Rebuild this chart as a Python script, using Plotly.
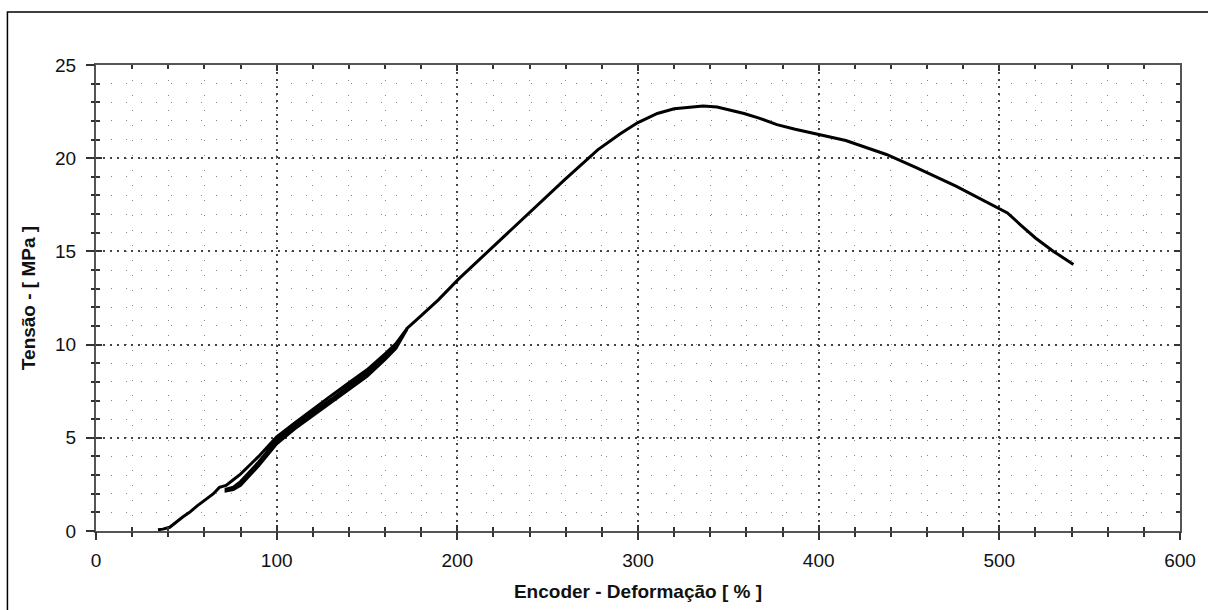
import plotly.graph_objects as go

# ---- data ----
init_x = [34.3, 37, 40.8, 44, 48, 51.8, 56, 61, 65, 68.3, 72]
init_y = [0.07, 0.1, 0.2, 0.45, 0.75, 1.0, 1.35, 1.71, 2.0, 2.34, 2.45]

band_x = [72, 76, 80, 90, 100, 110, 120, 130, 140, 150, 160, 166, 172]
upper_y = [2.45, 2.75, 3.05, 4.0, 5.05, 5.8, 6.55, 7.25, 7.95, 8.65, 9.5, 10.05, 10.85]
cyc1_y = [2.25, 2.35, 2.65, 3.7, 4.85, 5.62, 6.33, 7.05, 7.75, 8.45, 9.35, 9.95, 10.85]
cyc2_y = [2.15, 2.25, 2.5, 3.55, 4.7, 5.5, 6.2, 6.9, 7.6, 8.35, 9.25, 9.85, 10.8]
cyc3_y = [2.2, 2.3, 2.6, 3.62, 4.78, 5.56, 6.27, 6.98, 7.68, 8.4, 9.3, 9.9, 10.82]
cyc4_y = [2.15, 2.22, 2.45, 3.5, 4.68, 5.48, 6.18, 6.88, 7.58, 8.3, 9.2, 9.8, 10.8]

main_x = [172, 180, 189.5, 200.5, 217, 237.3, 259.3, 277.7, 290, 299.7, 310.7, 320,
          329, 336, 343.8, 350, 358.7, 367, 376.9, 387, 399, 415, 437.5, 454, 476,
          487, 504.5, 512, 520, 530, 541]
main_y = [10.85, 11.55, 12.4, 13.5, 15.0, 16.88, 18.84, 20.45, 21.3, 21.9, 22.4, 22.65,
          22.75, 22.8, 22.75, 22.6, 22.4, 22.15, 21.8, 21.55, 21.3, 20.95, 20.2, 19.5, 18.5,
          17.95, 17.06, 16.4, 15.72, 15.0, 14.3]

x_ticks = [0, 100, 200, 300, 400, 500, 600]
y_ticks = [0, 5, 10, 15, 20, 25]
x_title = "Encoder - Deformação [ % ]"
y_title = "Tensão - [ MPa ]"

# ---- build path: initial load, cycles, then continue to rupture ----
xs, ys = [], []
xs += init_x; ys += init_y
xs += band_x; ys += upper_y
xs += band_x[::-1]; ys += cyc1_y[::-1]
xs += band_x; ys += cyc2_y
xs += band_x[::-1]; ys += cyc3_y[::-1]
xs += band_x; ys += cyc4_y
xs += main_x; ys += main_y

FONT = "Liberation Sans, Arial, sans-serif"

fig = go.Figure()
fig.add_trace(go.Scatter(x=xs, y=ys, mode="lines",
                         line=dict(color="black", width=3),
                         showlegend=False, hoverinfo="skip"))
fig.add_trace(go.Scatter(x=[None], y=[None], xaxis="x2", yaxis="y2",
                         showlegend=False, hoverinfo="skip"))

common_grid = dict(showgrid=True, gridcolor="#444", gridwidth=1.5, griddash="2px,5px",
                   zeroline=False, showline=True, linecolor="#555", linewidth=2,
                   mirror="ticks", ticks="inside", ticklen=6, tickwidth=2, tickcolor="#333",
                   showticklabels=False)

fig.update_layout(
    width=1208, height=610,
    margin=dict(l=96, r=23, t=65, b=78),
    paper_bgcolor="white", plot_bgcolor="white",
    font=dict(family=FONT, color="#111"),
    xaxis=dict(range=[0, 600], tickvals=x_ticks,
               minor=dict(dtick=20, tick0=0, ticks="inside", ticklen=4, tickwidth=2,
                          tickcolor="#333", showgrid=True, gridcolor="#888",
                          gridwidth=1.2, griddash="1px,14px"),
               **common_grid),
    yaxis=dict(range=[0, 25], tickvals=y_ticks,
               minor=dict(dtick=1, tick0=0, ticks="inside", ticklen=4, tickwidth=2,
                          tickcolor="#333", showgrid=True, gridcolor="#888",
                          gridwidth=1.2, griddash="1px,14px"),
               **common_grid),
    xaxis2=dict(range=[0, 600], overlaying="x", side="bottom", anchor="y2",
                tickvals=x_ticks, ticks="outside", ticklen=8, tickwidth=2, tickcolor="#333",
                minor=dict(dtick=20, tick0=0, ticks="outside", ticklen=5, tickwidth=2,
                           tickcolor="#333", showgrid=False),
                showgrid=False, zeroline=False, showline=False,
                ticklabelstandoff=4,
                tickfont=dict(size=19, family=FONT, color="#111"),
                title=dict(text="<b>" + x_title + "</b>", standoff=14,
                           font=dict(size=19, family=FONT, color="#111"))),
    yaxis2=dict(range=[0, 25], overlaying="y", side="left", anchor="x2",
                tickvals=y_ticks, ticks="outside", ticklen=9, tickwidth=2, tickcolor="#333",
                minor=dict(dtick=1, tick0=0, ticks="outside", ticklen=4, tickwidth=2,
                           tickcolor="#333", showgrid=False),
                showgrid=False, zeroline=False, showline=False,
                ticklabelstandoff=6,
                tickfont=dict(size=19, family=FONT, color="#111"),
                title=dict(text="<b>" + y_title + "</b>", standoff=14,
                           font=dict(size=19, family=FONT, color="#111"))),
    shapes=[dict(type="rect", xref="paper", yref="paper",
                 x0=-0.0817, x1=1.3, y0=-0.6, y1=1.1135,
                 line=dict(color="black", width=1.5), fillcolor="rgba(0,0,0,0)",
                 layer="above")],
)

fig.write_html("out.html")
